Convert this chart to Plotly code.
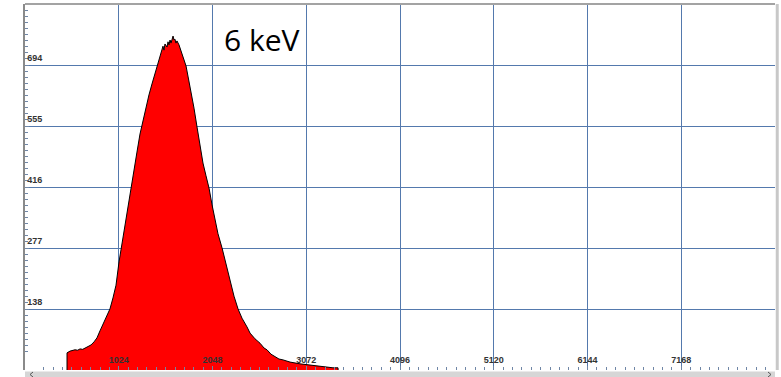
import plotly.graph_objects as go

# Spectrum (channel, counts)
channels = [459, 459, 492, 520, 546, 575, 601, 630, 655, 688, 721, 754, 786, 819, 852, 885, 928, 961, 994,
            1027, 1049, 1070, 1103, 1125, 1158, 1191, 1223, 1256, 1289, 1322, 1354, 1387,
            1420, 1442, 1464, 1486, 1507, 1518, 1529, 1551, 1562, 1573, 1584, 1595, 1606,
            1617, 1628, 1638, 1649, 1660, 1682, 1693, 1715, 1737, 1759, 1780, 1802, 1824,
            1846, 1879, 1912, 1944, 1977, 2010, 2043, 2075, 2108, 2152, 2196, 2239, 2283,
            2327, 2370, 2425, 2458, 2512, 2567, 2611, 2643, 2687, 2731, 2774, 2818, 2895,
            3004, 3113, 3190, 3277, 3364, 3419, 3420]
counts = [0, 39, 43, 45, 46, 45, 48, 47, 50, 52, 57, 64, 73, 89, 105, 121, 139, 164, 193,
          246, 273, 300, 341, 376, 414, 455, 496, 537, 569, 599, 626, 651,
          676, 692, 710, 724, 737, 728, 742, 735, 747, 740, 751, 744, 756,
          760, 751, 753, 744, 749, 740, 733, 724, 710, 692, 669, 646, 621,
          596, 553, 510, 471, 442, 414, 376, 341, 310, 278, 241, 203, 168,
          139, 118, 98, 84, 71, 61, 50, 46, 36, 30, 25, 23, 18,
          14, 11, 9, 7, 5, 5, 0]

x_ticks = [1024, 2048, 3072, 4096, 5120, 6144, 7168]
x_labels = ["1024", "2048", "3072", "4096", "5120", "6144", "7168"]
y_max = 833
y_ticks = [y_max * k / 6 for k in range(1, 6)]
y_labels = ["138", "277", "416", "555", "694"]

grid = "#5479ad"
tickc = "#6f86a6"


def px(xp):
    return (xp - 25) / 750


def py(yp):
    return (370 - yp) / 366


fig = go.Figure()
fig.add_trace(go.Scatter(
    x=channels, y=counts, mode="lines", fill="tozeroy",
    fillcolor="#ff0000", line=dict(color="#000000", width=1),
    hoverinfo="skip", showlegend=False))

fig.update_layout(
    width=781, height=377,
    margin=dict(l=25, r=6, t=4, b=7),
    paper_bgcolor="white", plot_bgcolor="white",
    xaxis=dict(range=[0, 8192], tickvals=x_ticks, ticktext=x_labels,
               showgrid=True, gridcolor=grid, gridwidth=1, zeroline=False,
               ticks="inside", ticklen=4, tickcolor=tickc,
               ticklabelposition="inside",
               tickfont=dict(family="Liberation Sans", size=9, color="#333333", weight="bold"),
               minor=dict(dtick=102.4, tick0=0, ticks="inside", ticklen=3, tickcolor=tickc, showgrid=False),
               showline=False),
    yaxis=dict(range=[0, y_max], tickvals=y_ticks, ticktext=y_labels,
               showgrid=True, gridcolor=grid, gridwidth=1, zeroline=False,
               ticks="inside", ticklen=4, tickcolor=tickc,
               ticklabelposition="inside top",
               tickfont=dict(family="Liberation Sans", size=9, color="#333333", weight="bold"),
               minor=dict(dtick=y_max / 60, tick0=0, ticks="inside", ticklen=3, tickcolor=tickc, showgrid=False),
               showline=True, linecolor="#8a8a8a", linewidth=2),
    annotations=[
        dict(x=2150, y=752, xref="x", yref="y", text="6 keV", showarrow=False,
             xanchor="left", yanchor="middle",
             font=dict(family="Open Sans", size=30, color="#000000")),
    ],
    shapes=[
        dict(type="line", xref="paper", yref="paper", x0=0, x1=1, y0=1, y1=1,
             line=dict(color="#a3a3a3", width=2)),
        dict(type="line", xref="paper", yref="paper", x0=1.003, x1=1.003, y0=0, y1=1,
             line=dict(color="#c8c8c8", width=3)),
        dict(type="rect", xref="paper", yref="paper", x0=0, x1=1, y0=py(377.5), y1=py(371.5),
             fillcolor="#d6d6d6", line=dict(width=0), layer="below"),
        dict(type="path", xref="paper", yref="paper",
             path=f"M {px(33)},{py(372)} L {px(30)},{py(374.5)} L {px(33)},{py(377)}",
             line=dict(color="#555555", width=1)),
        dict(type="path", xref="paper", yref="paper",
             path=f"M {px(768)},{py(372)} L {px(771)},{py(374.5)} L {px(768)},{py(377)}",
             line=dict(color="#555555", width=1)),
    ],
)

fig.write_html("out.html")
